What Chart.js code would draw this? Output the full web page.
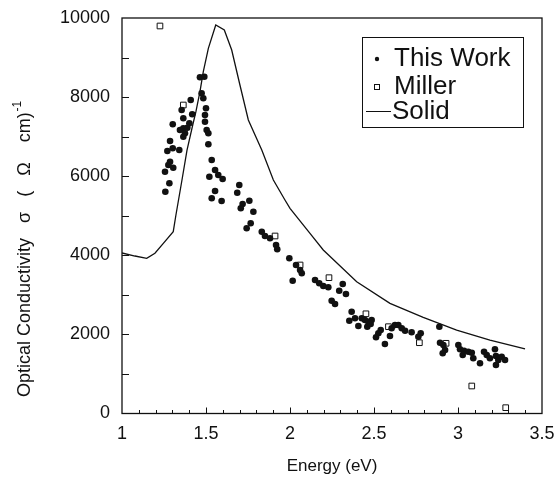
<!DOCTYPE html>
<html>
<head>
<meta charset="utf-8">
<script src="https://cdn.jsdelivr.net/npm/chart.js@4/dist/chart.umd.min.js"></script>
<style>
  html, body { margin: 0; padding: 0; background: #fff; }
  canvas { display: block; }
</style>
</head>
<body>
<canvas id="chart" width="556" height="481"></canvas>
<script>
// "This Work" measurements
const workEnergy = [
  1.464, 1.490, 1.474, 1.484, 1.409, 1.500, 1.355, 1.418, 1.365, 1.494,
  1.494, 1.302, 1.401, 1.365, 1.389, 1.345, 1.375, 1.365, 1.504, 1.514,
  1.286, 1.514, 1.270, 1.302, 1.341, 1.534, 1.286, 1.276, 1.305, 1.256,
  1.554, 1.573, 1.599, 1.520, 1.282, 1.258, 1.554, 1.534, 1.593, 1.698,
  1.686, 1.758, 1.718, 1.707, 1.782, 1.766, 1.742, 1.832, 1.851, 1.881,
  1.917, 1.924, 1.996, 2.036, 2.060, 2.070, 2.016, 2.149, 2.174, 2.198,
  2.228, 2.314, 2.293, 2.333, 2.248, 2.268, 2.367, 2.387, 2.353, 2.407,
  2.427, 2.446, 2.466, 2.486, 2.460, 2.480, 2.540, 2.526, 2.512, 2.595,
  2.565, 2.605, 2.625, 2.645, 2.665, 2.685, 2.724, 2.778, 2.764, 2.889,
  2.893, 2.913, 2.923, 2.909, 3.002, 3.012, 3.036, 3.061, 3.082, 3.028,
  3.091, 3.131, 3.155, 3.171, 3.190, 3.220, 3.226, 3.240, 3.260, 3.280,
  3.226
];
const workSigma = [
  8501, 8516, 8096, 7970, 7927, 7717, 7674, 7565, 7464, 7547,
  7378, 7312, 7338, 7211, 7226, 7168, 7085, 6999, 7168, 7085,
  6890, 6807, 6637, 6706, 6662, 6410, 6367, 6283, 6215, 6114,
  6157, 6030, 5929, 5987, 5820, 5608, 5626, 5441, 5373, 5778,
  5583, 5381, 5297, 5188, 5103, 4809, 4683, 4597, 4488, 4430,
  4260, 4152, 3924, 3755, 3628, 3545, 3358, 3375, 3292, 3224,
  3191, 3274, 3105, 3021, 2852, 2769, 2574, 2407, 2346, 2212,
  2407, 2364, 2321, 2364, 2195, 2263, 2111, 2028, 1927, 1960,
  1757, 2154, 2238, 2238, 2154, 2094, 2053, 2028, 1942, 2195,
  1790, 1732, 1606, 1522, 1732, 1623, 1588, 1563, 1537, 1479,
  1396, 1269, 1563, 1479, 1396, 1623, 1454, 1353, 1436, 1353,
  1226
];

// Miller
const millerEnergy = [1.226, 1.365, 1.911, 2.060, 2.232, 2.452, 2.586, 2.770, 2.929, 3.082, 3.284];
const millerSigma = [9798, 7800, 4488, 3755, 3434, 2521, 2195, 1790, 1775, 695, 147];

// Solid curve
const solidEnergy = [
  1.000, 1.077, 1.147, 1.196, 1.246, 1.305, 1.321, 1.357, 1.387, 1.421,
  1.440, 1.464, 1.484, 1.514, 1.558, 1.609, 1.653, 1.702, 1.752, 1.832,
  1.901, 1.970, 2.000, 2.119, 2.198, 2.397, 2.595, 2.793, 2.992, 3.190,
  3.399
];
const solidSigma = [
  4058, 3982, 3924, 4051, 4303, 4597, 5019, 5904, 6662, 7295,
  7631, 8137, 8642, 9234, 9823, 9697, 9191, 8306, 7421, 6662,
  5904, 5398, 5188, 4556, 4134, 3333, 2786, 2432, 2111, 1858,
  1631
];

const xTicks = [1, 1.5, 2, 2.5, 3, 3.5];
const yTicks = [0, 2000, 4000, 6000, 8000, 10000];

const FONT = "'Liberation Sans', Arial, Helvetica, sans-serif";
const INK = "#111";

function toPoints(xs, ys) {
  return xs.map((x, i) => ({ x, y: ys[i] }));
}

// frame, inward ticks, legend box and y title
const decorations = {
  id: "decorations",
  afterDatasetsDraw(chart) {
    const { ctx } = chart;
    const xs = chart.scales.x;
    const ys = chart.scales.y;
    const left = xs.getPixelForValue(1);
    const right = xs.getPixelForValue(3.5);
    const top = ys.getPixelForValue(10000);
    const bottom = ys.getPixelForValue(0);
    ctx.save();
    ctx.strokeStyle = INK;
    ctx.lineWidth = 1.3;
    ctx.strokeRect(left, top, right - left, bottom - top);

    ctx.lineWidth = 1;
    ctx.beginPath();
    for (let i = 11; i < 35; i++) {
      const px = Math.round(xs.getPixelForValue(i / 10)) + 0.5;
      const len = i % 5 === 0 ? 6 : 3.5;
      ctx.moveTo(px, bottom);
      ctx.lineTo(px, bottom - len);
    }
    for (let v = 1000; v < 10000; v += 1000) {
      const py = Math.round(ys.getPixelForValue(v)) + 0.5;
      ctx.moveTo(left, py);
      ctx.lineTo(left + 7, py);
    }
    ctx.stroke();

    // legend
    ctx.strokeRect(362.5, 37.5, 161, 90);
    ctx.fillStyle = INK;
    ctx.beginPath();
    ctx.arc(377, 59, 2.2, 0, Math.PI * 2);
    ctx.fill();
    ctx.strokeRect(374.5, 84.5, 5, 5);
    ctx.beginPath();
    ctx.moveTo(366, 111.5);
    ctx.lineTo(391, 111.5);
    ctx.stroke();
    ctx.font = "26px " + FONT;
    ctx.textBaseline = "middle";
    ctx.textAlign = "left";
    ctx.fillText("This Work", 394, 59);
    ctx.fillText("Miller", 394, 87);
    ctx.fillText("Solid", 392, 112);

    // y axis title
    ctx.translate(25, 397);
    ctx.rotate(-Math.PI / 2);
    ctx.font = "18px " + FONT;
    const main = "Optical Conductivity   \u03c3   (   \u03a9    cm)";
    ctx.fillText(main, 0, 0);
    const w = ctx.measureText(main).width;
    ctx.font = "12px " + FONT;
    ctx.fillText("-1", w + 1, -7);
    ctx.restore();
  },
};

const ctx = document.getElementById("chart");

new Chart(ctx, {
  type: "scatter",
  data: {
    datasets: [
      {
        label: "This Work",
        data: toPoints(workEnergy, workSigma),
        pointStyle: "circle",
        pointRadius: 3.3,
        pointBackgroundColor: INK,
        pointBorderWidth: 0,
        showLine: false,
      },
      {
        label: "Miller",
        data: toPoints(millerEnergy, millerSigma),
        pointStyle: "rect",
        pointRadius: 4,
        pointBackgroundColor: "#fff",
        pointBorderColor: INK,
        pointBorderWidth: 1,
        showLine: false,
      },
      {
        label: "Solid",
        data: toPoints(solidEnergy, solidSigma),
        showLine: true,
        pointRadius: 0,
        borderColor: INK,
        borderWidth: 1.3,
        tension: 0,
      },
    ],
  },
  options: {
    responsive: false,
    animation: false,
    layout: { padding: { top: 18, right: 14, left: 0, bottom: 0 } },
    plugins: {
      legend: { display: false },
      tooltip: { enabled: false },
    },
    scales: {
      x: {
        type: "linear",
        min: 1,
        max: 3.5,
        afterBuildTicks: (scale) => {
          scale.ticks = xTicks.map((value) => ({ value }));
        },
        afterFit: (scale) => {
          scale.height = 67.5;
          scale.paddingRight = 0;
          scale.paddingLeft = 0;
        },
        grid: { display: false, drawTicks: false },
        border: { display: false },
        ticks: {
          color: INK,
          font: { family: FONT, size: 18 },
          padding: 10,
          maxRotation: 0,
          autoSkip: false,
          callback: (v) => String(v),
        },
        title: {
          display: true,
          text: "Energy (eV)",
          color: INK,
          font: { family: FONT, size: 17 },
          padding: { top: 4, bottom: 4 },
        },
      },
      y: {
        type: "linear",
        min: 0,
        max: 10000,
        afterBuildTicks: (scale) => {
          scale.ticks = yTicks.map((value) => ({ value }));
        },
        afterFit: (scale) => {
          scale.width = 122;
          scale.paddingTop = 0;
          scale.paddingBottom = 0;
        },
        grid: { display: false, drawTicks: false },
        border: { display: false },
        ticks: {
          color: INK,
          font: { family: FONT, size: 18 },
          padding: 12,
          callback: (v) => String(v),
        },
      },
    },
  },
  plugins: [decorations],
});
</script>
</body>
</html>
